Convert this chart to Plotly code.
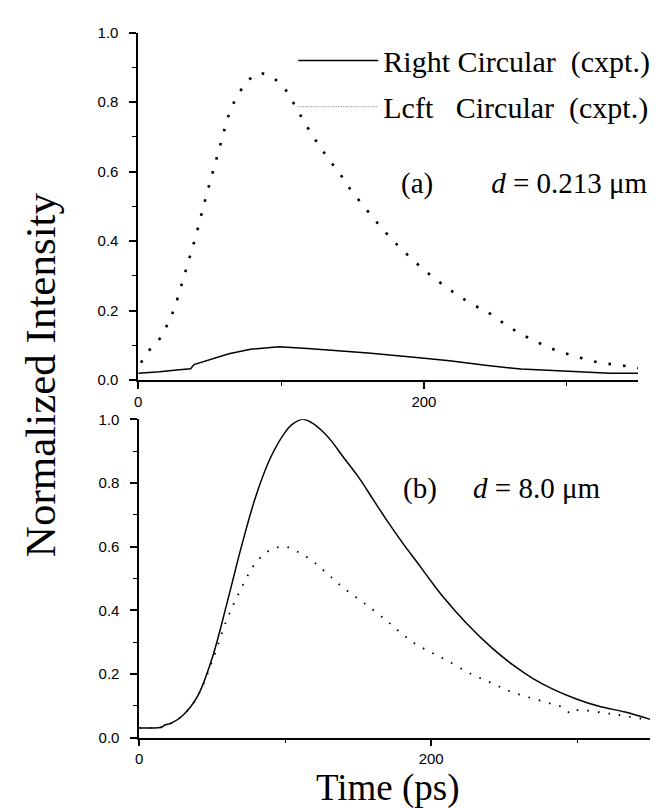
import plotly.graph_objects as go

# ---------------- data ----------------
# Panel (a): d = 0.213 um
a_right_x = [0, 15, 28.7, 36.7, 39, 51, 63.5, 78.6, 98.5, 118.5, 143.4, 161, 193, 218, 243, 268, 305, 330, 350]
a_right_y = [0.020, 0.024, 0.030, 0.033, 0.045, 0.061, 0.076, 0.089, 0.096, 0.091, 0.084, 0.078, 0.066, 0.056, 0.043, 0.032, 0.025, 0.020, 0.020]

a_left_x = [2, 5.5, 14.5, 20.4, 25, 30, 35, 40, 46.8, 52.4, 58, 63.6, 68.2, 74.7, 83.5, 93.2, 101.8, 108.3,
            113.9, 119.9, 126.2, 133.4, 141, 147.3, 160, 170, 180, 190, 200, 210, 220, 230, 240, 247,
            257, 266.8, 276, 285.5, 295, 304.7, 314, 324, 333.4, 343, 350]
a_left_y = [0.05, 0.076, 0.116, 0.16, 0.204, 0.27, 0.34, 0.41, 0.518, 0.602, 0.685, 0.766, 0.809, 0.85, 0.883,
            0.872, 0.843, 0.80, 0.76, 0.718, 0.678, 0.636, 0.595, 0.556, 0.49, 0.44, 0.395, 0.355, 0.318,
            0.285, 0.255, 0.228, 0.205, 0.19, 0.16, 0.136, 0.116, 0.098, 0.082, 0.071, 0.059, 0.050,
            0.045, 0.040, 0.035]

# Panel (b): d = 8.0 um
b_right_x = [0, 8, 15, 18, 22, 30, 40, 50, 60, 70, 80, 90, 100, 105, 112, 118, 125, 132, 140, 150, 160,
             170, 181, 190, 199, 208, 224, 242, 256, 269.5, 283, 299, 315, 333, 350]
b_right_y = [0.03, 0.03, 0.032, 0.04, 0.045, 0.07, 0.13, 0.25, 0.42, 0.60, 0.76, 0.88, 0.96, 0.985, 1.0,
             0.99, 0.965, 0.93, 0.88, 0.82, 0.75, 0.68, 0.608, 0.553, 0.497, 0.443, 0.36, 0.28, 0.228,
             0.186, 0.153, 0.122, 0.098, 0.08, 0.057]

b_left_x = [0, 8, 15, 18, 22, 30, 40, 50, 60, 70, 80, 90, 100, 110, 120, 130, 140, 153.6, 169.5, 180,
            189, 199, 210, 226, 241, 256, 278.5, 290, 296, 299, 322, 350]
b_left_y = [0.03, 0.03, 0.032, 0.04, 0.045, 0.07, 0.13, 0.24, 0.37, 0.47, 0.55, 0.59, 0.60, 0.58, 0.55,
            0.51, 0.47, 0.424, 0.367, 0.326, 0.295, 0.27, 0.244, 0.203, 0.172, 0.142, 0.111, 0.095,
            0.075, 0.085, 0.075, 0.054]

series_names = ["Right Circular\u00a0\u00a0(cxpt.)", "Lcft\u00a0\u00a0\u00a0Circular\u00a0\u00a0(cxpt.)"]
panel_labels = ["(a)" + "\u00a0" * 8 + "<i>d</i> = 0.213 \u03bcm", "(b)" + "\u00a0" * 5 + "<i>d</i> = 8.0 \u03bcm"]
x_title = "Time (ps)"
y_title = "Normalized Intensity"

SERIF = "Liberation Serif, Times New Roman, serif"
SANS = "Liberation Sans, Arial, sans-serif"

fig = go.Figure()
# curves
fig.add_trace(go.Scatter(x=a_right_x, y=a_right_y, mode="lines", showlegend=False,
                         line=dict(color="black", width=1.5), xaxis="x", yaxis="y"))
fig.add_trace(go.Scatter(x=a_left_x, y=a_left_y, mode="lines", showlegend=False,
                         line=dict(color="black", width=2.6, dash="2.6px,12px", shape="spline"),
                         xaxis="x", yaxis="y"))
fig.add_trace(go.Scatter(x=b_right_x, y=b_right_y, mode="lines", showlegend=False,
                         line=dict(color="black", width=1.5, shape="spline"), xaxis="x2", yaxis="y2"))
fig.add_trace(go.Scatter(x=b_left_x, y=b_left_y, mode="lines", showlegend=False,
                         line=dict(color="black", width=1.8, dash="1.6px,9px", shape="spline"),
                         xaxis="x2", yaxis="y2"))
# legend entries (as in the original: solid line and a fine grey dotted line)
fig.add_trace(go.Scatter(x=[None], y=[None], mode="lines", name=series_names[0],
                         line=dict(color="black", width=1.5), xaxis="x", yaxis="y", legendgroup="r"))
fig.add_trace(go.Scatter(x=[None], y=[None], mode="lines", name=series_names[1],
                         line=dict(color="#777777", width=1, dash="1px,1.5px"), xaxis="x", yaxis="y",
                         legendgroup="l"))

W, H = 661, 808

def xax(domain, anchor):
    return dict(domain=domain, anchor=anchor, range=[0, 350], showgrid=False, zeroline=False,
                showline=True, linecolor="black", linewidth=1.5, ticks="outside", ticklen=7,
                tickwidth=1.5, tickcolor="black", tick0=0, dtick=200,
                minor=dict(ticks="outside", dtick=100, tick0=0, ticklen=4, tickwidth=1.2, tickcolor="black"),
                tickfont=dict(family=SANS, size=15, color="black"))

def yax(domain, anchor):
    return dict(domain=domain, anchor=anchor, range=[0, 1], showgrid=False, zeroline=False,
                showline=True, linecolor="black", linewidth=1.5, ticks="outside", ticklen=7,
                tickwidth=1.5, tickcolor="black", tick0=0, dtick=0.2, tickformat=".1f",
                minor=dict(ticks="outside", dtick=0.1, tick0=0, ticklen=4, tickwidth=1.2, tickcolor="black"),
                tickfont=dict(family=SANS, size=15, color="black"), ticklabelstandoff=8)

fig.update_layout(
    width=W, height=H, autosize=False,
    margin=dict(l=0, r=0, t=0, b=0),
    paper_bgcolor="white", plot_bgcolor="white",
    xaxis=xax([127 / W, 630 / W], "y"),
    yaxis=yax([1 - 371 / H, 1 - 16 / H], "x"),
    xaxis2=xax([128 / W, 642 / W], "y2"),
    yaxis2=yax([1 - 736 / H, 1 - 411 / H], "x2"),
    legend=dict(x=283 / W, y=1 - 18 / H, xanchor="left", yanchor="top",
                font=dict(family=SERIF, size=30, color="black"), bgcolor="rgba(0,0,0,0)",
                itemwidth=80, tracegroupgap=4),
    showlegend=True,
    annotations=[
        dict(text=panel_labels[0], x=389 / W, y=1 - 170 / H, xref="paper", yref="paper",
             xanchor="left", yanchor="middle", showarrow=False,
             font=dict(family=SERIF, size=29, color="black")),
        dict(text=panel_labels[1], x=391 / W, y=1 - 482 / H, xref="paper", yref="paper",
             xanchor="left", yanchor="middle", showarrow=False,
             font=dict(family=SERIF, size=29, color="black")),
        dict(text=y_title, x=28 / W, y=1 - 365 / H, xref="paper", yref="paper",
             xanchor="center", yanchor="middle", showarrow=False, textangle=-90,
             font=dict(family=SERIF, size=43, color="black")),
        dict(text=x_title, x=378 / W, y=1 - 788 / H, xref="paper", yref="paper",
             xanchor="center", yanchor="middle", showarrow=False,
             font=dict(family=SERIF, size=37, color="black")),
    ],
)

fig.write_html("out.html")
